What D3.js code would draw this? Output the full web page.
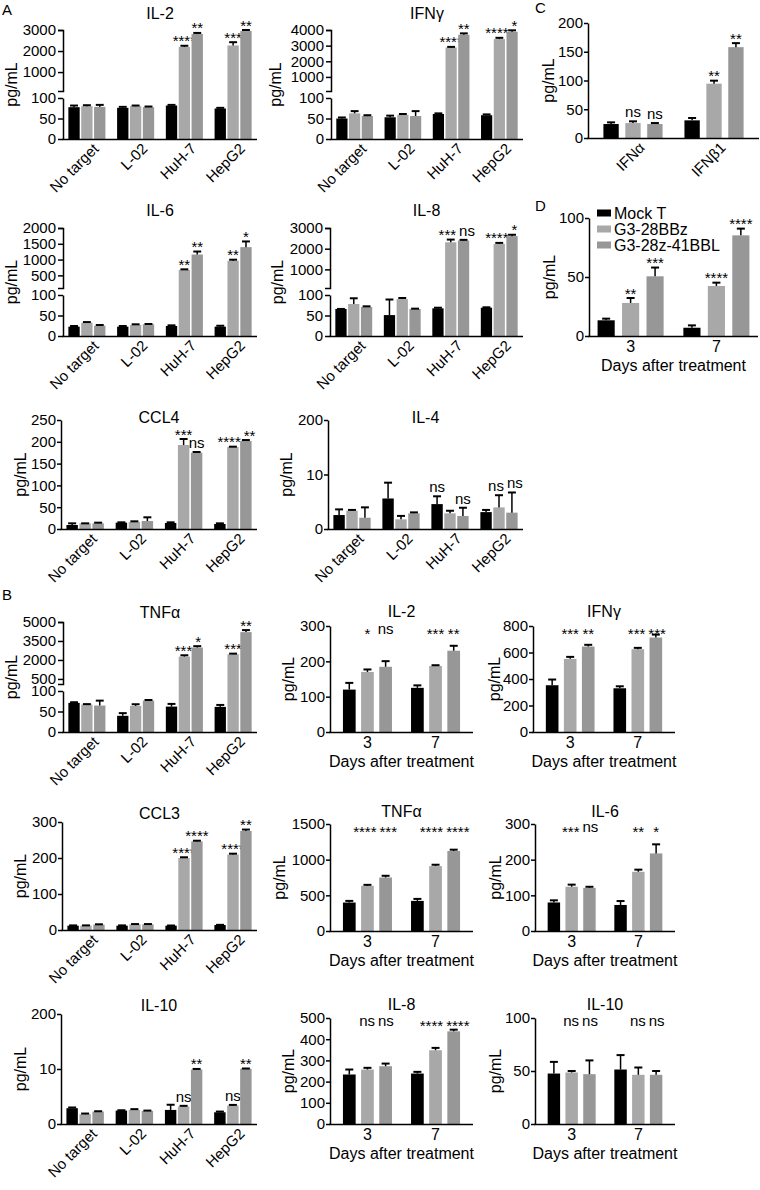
<!DOCTYPE html>
<html><head><meta charset="utf-8">
<script src="https://cdn.jsdelivr.net/npm/d3@7"></script>
<style>
body{margin:0;background:#fff;}
svg text{font-family:"Liberation Sans", Arial, Helvetica, sans-serif; fill:#000;}
</style></head><body>
<svg id="c" width="760" height="1190"></svg>
<script>
// ---------------- DATA ----------------
const seriesNames = ["Mock T", "G3-28BBz", "G3-28z-41BBL"];
const seriesColors = ["#000000", "#a8a8a8", "#979797"];
const targets = ["No target", "L-02", "HuH-7", "HepG2"];
const days = ["3", "7"];
const ifnCats = ["IFNα", "IFNβ1"];

// Panel A (rows = targets, cols = series)
const aIL2Mean = [[77.6,80,78.4],[76,80,77.6],[81.6,2190,2810],[74.4,2265,2950]];
const aIL2Err  = [[4,2.4,4.8],[2.4,1.6,1.6],[1.6,60,50],[1.6,155,50]];
const aIL2Sig  = [["","",""],["","",""],["","****","**"],["","***","**"]];
const aIL2LoTicks = [0,50,100], aIL2HiTicks = [1000,2000,3000];

const aIFNgMean = [[50,62.5,56],[53,59,56],[61,2880,3700],[58,3420,3890]];
const aIFNgErr  = [[2.5,5.5,2],[4,2,12],[1.5,40,85],[2,80,90]];
const aIFNgSig  = [["","",""],["","",""],["","****","**"],["","****","*"]];
const aIFNgLoTicks = [0,50,100], aIFNgHiTicks = [1000,2000,3000,4000];

const aIL6Mean = [[22.8,32.5,25.2],[22.8,26.8,28.5],[24.4,670,1160],[22.8,964,1394]];
const aIL6Err  = [[1.6,1.5,1.6],[1.6,1.7,0.8],[1.6,21,95],[2.2,32,180]];
const aIL6Sig  = [["","",""],["","",""],["","**","**"],["","**","*"]];
const aIL6LoTicks = [0,50,100], aIL6HiTicks = [500,1000,1500,2000];

const aIL8Mean = [[66,78,70.7],[51,90,66],[67.5,2310,2394],[69,2230,2607]];
const aIL8Err  = [[0,14,1.7],[38,2.7,0.7],[1.5,130,33],[1,50,66]];
const aIL8Sig  = [["","",""],["","",""],["","***","ns"],["","****","*"]];
const aIL8LoTicks = [0,50,100], aIL8HiTicks = [1000,2000,3000];

const aCCL4Mean = [[9.2,13,13],[14.5,16,18.3],[13.8,192.7,175],[11.5,188,201.8]];
const aCCL4Err  = [[3.8,0,1.5],[0.8,1.6,8.5],[1.5,13.7,1.6],[1.5,0.8,2.2]];
const aCCL4Sig  = [["","",""],["","",""],["","***","ns"],["","****","**"]];
const aCCL4Ticks = [0,50,100,150,200,250];

const aIL4Mean = [[2.56,3.35,2.07],[5.6,1.77,2.87],[4.57,2.87,2.38],[3.1,3.96,3.0]];
const aIL4Err  = [[1.04,0.15,1.9],[2.9,0.63,0.18],[1.43,0.48,1.52],[0.4,2.24,3.7]];
const aIL4Sig  = [["","",""],["","",""],["ns","","ns"],["","ns","ns"]];
const aIL4Ticks = [0,10,200];

// Panel B, left column (targets)
const bTNFaMean = [[71,67,64.5],[39.5,63.7,76.6],[62,2265,2980],[61.3,2450,4200]];
const bTNFaErr  = [[1.6,1,12],[6.5,4,1.4],[6.5,105,110],[4.7,50,160]];
const bTNFaSig  = [["","",""],["","",""],["","***","*"],["","***","**"]];
const bTNFaLoTicks = [0,50,100], bTNFaHiTicks = [500,2000,3500,5000];

const bCCL3Mean = [[12,12,14.8],[12,15.7,15.7],[12,200,246],[13.8,209.6,275]];
const bCCL3Err  = [[0.8,0.8,1],[0.8,0.8,0.8],[0.5,2,2],[0.5,2.4,4]];
const bCCL3Sig  = [["","",""],["","",""],["","****","****"],["","****","**"]];
const bCCL3Ticks = [0,100,200,300];

const bIL10Mean = [[2.87,1.77,2.26],[2.44,2.56,2.38],[2.56,3.17,9.9],[2.13,3.35,10.9]];
const bIL10Err  = [[0.13,0.13,0.06],[0.06,0.14,0.06],[0.94,0.13,0.3],[0.13,0.12,0.8]];
const bIL10Sig  = [["","",""],["","",""],["","ns","**"],["","ns","**"]];
const bIL10Ticks = [0,10,200];

// Panel B, days after treatment (rows = days)
const dIL2Mean = [[120,170,184.5],[125,187,230]];
const dIL2Err  = [[19,7,16],[7,2,14]];
const dIL2Sig  = [["","*","ns"],["","***","**"]];
const dIL2Ticks = [0,100,200,300];

const dIFNgMean = [[353,552,645],[330,625,713]];
const dIFNgErr  = [[43,15,13],[15,10,22]];
const dIFNgSig  = [["","***","**"],["","***","***"]];
const dIFNgTicks = [0,200,400,600,800];

const dTNFaMean = [[399,633,750],[422,910,1121]];
const dTNFaErr  = [[23,14,24],[28,19,19]];
const dTNFaSig  = [["","****","***"],["","****","****"]];
const dTNFaTicks = [0,500,1000,1500];

const dIL6Mean = [[80,124,121],[73,166,217.5]];
const dIL6Err  = [[6,6,3],[11,6,25.5]];
const dIL6Sig  = [["","***","ns"],["","**","*"]];
const dIL6Ticks = [0,100,200,300];

const dIL8Mean = [[233.5,257,272.6],[238,348,437]];
const dIL8Err  = [[23.5,8,12.4],[8,11,8]];
const dIL8Sig  = [["","ns","ns"],["","****","****"]];
const dIL8Ticks = [0,100,200,300,400,500];

const dIL10Mean = [[47.6,48.6,47],[51.4,46.4,46.4]];
const dIL10Err  = [[11,1.4,13],[13.6,6.9,3.6]];
const dIL10Sig  = [["","ns","ns"],["","ns","ns"]];
const dIL10Ticks = [0,50,100];

// Panel C
const cMean = [[24.3,26,24.3],[30.7,94.5,158]];
const cErr  = [[2.9,3,1.7],[4.1,5.2,7]];
const cSig  = [["","ns","ns"],["","**","**"]];
const cTicks = [0,50,100,150,200];

// Panel D
const dMean = [[13.3,28,50.6],[7,42.4,85.3]];
const dErr  = [[1.4,4.2,7.4],[2,2.8,5.7]];
const dSig  = [["","**","***"],["","****","****"]];
const dTicks = [0,50,100];

// ---------------- DRAWING ----------------
const svg = d3.select("#c");
const TICK_FS = 15, TITLE_FS = 16, SIG_FS = 15;
const fmt = d3.format("d");

function styleAxis(sel, fs) {
  sel.select(".domain").attr("stroke", "#000").attr("stroke-width", 1.5);
  sel.selectAll(".tick line").attr("stroke", "#000").attr("stroke-width", 1.5);
  sel.selectAll(".tick text").attr("font-size", fs || TICK_FS)
     .style("font-family", '"Liberation Sans", Arial, sans-serif');
  return sel;
}

function baselineFor(text, yc, fs) {
  return /\*/.test(text) ? yc + 0.57 * fs : yc + 0.26 * fs;
}

function drawPlot(p) {
  const g = svg.append("g");
  const tk = p.tick || 5, tp = p.pad == null ? 2 : p.pad;
  let Y;
  const axisG = [];
  if (p.kind === "break") {
    const lo = d3.scaleLinear().domain([0, p.brk]).range([p.yBot, p.yLoTop]);
    const hi = d3.scaleLinear().domain([p.brk, p.max]).range([p.yLoTop - p.gap, p.yTop]);
    Y = v => (v <= p.brk ? lo(v) : hi(v));
    axisG.push(d3.axisLeft(lo).tickValues(p.loTicks).tickSize(tk).tickSizeOuter(0).tickPadding(tp).tickFormat(fmt));
    axisG.push(d3.axisLeft(hi).tickValues(p.hiTicks).tickSize(tk).tickSizeOuter(tk).tickPadding(tp).tickFormat(fmt));
  } else {
    const d = p.ticks;
    const s = p.kind === "seg"
      ? d3.scaleLinear().domain([d[0], d[1], d[2]]).range([p.yBot, (p.yBot + p.yTop) / 2, p.yTop])
      : d3.scaleLinear().domain([0, d[d.length - 1]]).range([p.yBot, p.yTop]);
    Y = s;
    axisG.push(d3.axisLeft(s).tickValues(p.ticks).tickSize(tk).tickSizeOuter(0).tickPadding(tp).tickFormat(fmt));
  }

  const x = d3.scaleBand().domain(p.cats).range([p.x0, p.x1]).paddingInner(p.pI).paddingOuter(p.pO);
  const xi = d3.scaleBand().domain([0, 1, 2]).range([0, x.bandwidth()]).paddingInner(p.bI);
  const bw = xi.bandwidth();
  const capW = Math.min(8, bw * 0.7);

  p.cats.forEach((c, ci) => {
    const labels = [];
    p.mean[ci].forEach((m, s) => {
      const bx = x(c) + xi(s);
      g.append("rect").attr("x", bx).attr("y", Y(m)).attr("width", bw)
        .attr("height", Y(0) - Y(m)).attr("fill", seriesColors[s]);
      const e = p.err[ci][s];
      const cx = bx + bw / 2;
      const yT = Y(m + e);
      g.append("line").attr("x1", cx).attr("x2", cx).attr("y1", Y(m)).attr("y2", yT)
        .attr("stroke", "#000").attr("stroke-width", 1.5);
      g.append("line").attr("x1", cx - capW / 2).attr("x2", cx + capW / 2).attr("y1", yT).attr("y2", yT)
        .attr("stroke", "#000").attr("stroke-width", 2);
      const lab = p.sig[ci][s];
      if (lab) {
        const yc = p.sigMode === "top" ? p.yTop + 4 : yT - 8;
        const t = g.append("text").attr("x", cx).attr("y", baselineFor(lab, yc, SIG_FS))
          .attr("text-anchor", "middle").attr("font-size", SIG_FS).text(lab);
        labels.push({ t, cx, yc, w: t.node().getComputedTextLength() });
      }
    });
    // spread neighbouring labels that would collide
    for (let k = 0; k + 1 < labels.length; k++) {
      const a = labels[k], b = labels[k + 1];
      if (Math.abs(a.yc - b.yc) > 11) continue;
      const need = (a.w + b.w) / 2 + 3;
      const have = b.cx - a.cx;
      if (have < need) {
        const sh = (need - have) / 2;
        a.cx -= sh; b.cx += sh;
        a.t.attr("x", a.cx); b.t.attr("x", b.cx);
      }
    }
  });

  // y axes
  axisG.forEach(a => styleAxis(g.append("g").attr("transform", `translate(${p.x0},0)`).call(a)));

  // x axis
  const xa = g.append("g").attr("transform", `translate(0,${p.yBot})`)
    .call(d3.axisBottom(x).tickSize(0).tickSizeOuter(0).tickPadding(5));
  styleAxis(xa, p.rotate ? 15 : 16);
  xa.select(".domain").attr("d", `M${p.x0 - 0.75},0.5H${p.x1}`);
  if (p.rotate) {
    xa.selectAll(".tick text").attr("x", 0).attr("y", 0).attr("dy", "0.35em")
      .attr("text-anchor", "end").attr("transform", "translate(9,7) rotate(-45)");
  }
  if (p.xTitle) {
    g.append("text").attr("x", (p.x0 + p.x1) / 2).attr("y", p.yBot + 35)
      .attr("text-anchor", "middle").attr("font-size", 16).text(p.xTitle);
  }
  // y label
  g.append("text").attr("transform", `translate(${p.labelX},${(p.yTop + p.yBot) / 2}) rotate(-90)`)
    .attr("dy", "0.3em").attr("text-anchor", "middle").attr("font-size", 16).text("pg/mL");
  // title
  if (p.title) {
    g.append("text").attr("x", (p.x0 + p.x1) / 2).attr("y", p.titleY).attr("dy", "0.36em")
      .attr("text-anchor", "middle").attr("font-size", TITLE_FS).text(p.title);
  }
}

const tgt = { cats: targets, pI: 0.24, pO: 0.11, bI: 0.12, rotate: true, sigMode: "bar", tick: 5, pad: 2 };
const day = { cats: days, pI: 0.28, pO: 0.19, bI: 0.3, rotate: false, sigMode: "top",
  xTitle: "Days after treatment", tick: 4, pad: 1 };

// Panel A
drawPlot({ ...tgt, title: "IL-2", titleY: 13, x0: 63, x1: 257, yTop: 30, yBot: 139,
  kind: "break", brk: 100, yLoTop: 98, gap: 7, max: 3000, loTicks: aIL2LoTicks, hiTicks: aIL2HiTicks,
  mean: aIL2Mean, err: aIL2Err, sig: aIL2Sig, labelX: 12 });
drawPlot({ ...tgt, title: "IFNγ", titleY: 13, x0: 331, x1: 523, yTop: 30, yBot: 139,
  kind: "break", brk: 100, yLoTop: 98, gap: 7, max: 4000, loTicks: aIFNgLoTicks, hiTicks: aIFNgHiTicks,
  mean: aIFNgMean, err: aIFNgErr, sig: aIFNgSig, labelX: 276 });
drawPlot({ ...tgt, title: "IL-6", titleY: 210, x0: 63, x1: 257, yTop: 228, yBot: 336,
  kind: "break", brk: 100, yLoTop: 295, gap: 7, max: 2000, loTicks: aIL6LoTicks, hiTicks: aIL6HiTicks,
  mean: aIL6Mean, err: aIL6Err, sig: aIL6Sig, labelX: 12 });
drawPlot({ ...tgt, title: "IL-8", titleY: 210, x0: 330, x1: 523, yTop: 228, yBot: 336,
  kind: "break", brk: 100, yLoTop: 295, gap: 7, max: 3000, loTicks: aIL8LoTicks, hiTicks: aIL8HiTicks,
  mean: aIL8Mean, err: aIL8Err, sig: aIL8Sig, labelX: 278 });
drawPlot({ ...tgt, title: "CCL4", titleY: 417, x0: 61, x1: 257, yTop: 420, yBot: 529,
  kind: "lin", ticks: aCCL4Ticks, mean: aCCL4Mean, err: aCCL4Err, sig: aCCL4Sig, labelX: 21, tick: 4, pad: 1 });
drawPlot({ ...tgt, title: "IL-4", titleY: 417, x0: 328, x1: 523, yTop: 420, yBot: 529,
  kind: "seg", ticks: aIL4Ticks, mean: aIL4Mean, err: aIL4Err, sig: aIL4Sig, labelX: 287, tick: 4, pad: 1 });

// Panel B left
drawPlot({ ...tgt, title: "TNFα", titleY: 612, x0: 63, x1: 257, yTop: 622, yBot: 732,
  kind: "break", brk: 100, yLoTop: 691, gap: 7, max: 5000, loTicks: bTNFaLoTicks, hiTicks: bTNFaHiTicks,
  mean: bTNFaMean, err: bTNFaErr, sig: bTNFaSig, labelX: 12 });
drawPlot({ ...tgt, title: "CCL3", titleY: 813, x0: 62, x1: 257, yTop: 822, yBot: 930,
  kind: "lin", ticks: bCCL3Ticks, mean: bCCL3Mean, err: bCCL3Err, sig: bCCL3Sig, labelX: 21, tick: 4, pad: 1 });
drawPlot({ ...tgt, title: "IL-10", titleY: 1005, x0: 61, x1: 257, yTop: 1014, yBot: 1124,
  kind: "seg", ticks: bIL10Ticks, mean: bIL10Mean, err: bIL10Err, sig: bIL10Sig, labelX: 21, tick: 4, pad: 1 });

// Panel B days
drawPlot({ ...day, title: "IL-2", titleY: 611, x0: 330, x1: 473, yTop: 626, yBot: 732,
  kind: "lin", ticks: dIL2Ticks, mean: dIL2Mean, err: dIL2Err, sig: dIL2Sig, labelX: 289 });
drawPlot({ ...day, title: "IFNγ", titleY: 611, x0: 533, x1: 675, yTop: 626, yBot: 732,
  kind: "lin", ticks: dIFNgTicks, mean: dIFNgMean, err: dIFNgErr, sig: dIFNgSig, labelX: 495 });
drawPlot({ ...day, title: "TNFα", titleY: 811, x0: 330, x1: 473, yTop: 824, yBot: 931,
  kind: "lin", ticks: dTNFaTicks, mean: dTNFaMean, err: dTNFaErr, sig: dTNFaSig, labelX: 280 });
drawPlot({ ...day, title: "IL-6", titleY: 811, x0: 535, x1: 675, yTop: 824, yBot: 931,
  kind: "lin", ticks: dIL6Ticks, mean: dIL6Mean, err: dIL6Err, sig: dIL6Sig, labelX: 496 });
drawPlot({ ...day, title: "IL-8", titleY: 1004, x0: 330, x1: 473, yTop: 1018, yBot: 1124,
  kind: "lin", ticks: dIL8Ticks, mean: dIL8Mean, err: dIL8Err, sig: dIL8Sig, labelX: 289 });
drawPlot({ ...day, title: "IL-10", titleY: 1004, x0: 535, x1: 675, yTop: 1018, yBot: 1124,
  kind: "lin", ticks: dIL10Ticks, mean: dIL10Mean, err: dIL10Err, sig: dIL10Sig, labelX: 496 });

// Panel C
drawPlot({ cats: ifnCats, pI: 0.27, pO: 0.19, bI: 0.3, rotate: true, sigMode: "bar", tick: 4, pad: 1,
  x0: 588, x1: 759, yTop: 23, yBot: 138, kind: "lin", ticks: cTicks,
  mean: cMean, err: cErr, sig: cSig, labelX: 549 });

// Panel D
drawPlot({ cats: days, pI: 0.23, pO: 0.10, bI: 0.3, rotate: false, sigMode: "bar", tick: 4, pad: 1,
  xTitle: "Days after treatment",
  x0: 589, x1: 758, yTop: 218, yBot: 336, kind: "lin", ticks: dTicks,
  mean: dMean, err: dErr, sig: dSig, labelX: 550 });

// Legend (panel D)
const leg = svg.append("g").attr("transform", "translate(597,213)");
seriesNames.forEach((n, i) => {
  leg.append("rect").attr("x", 0).attr("y", i * 16 - 3.5).attr("width", 14).attr("height", 7)
    .attr("fill", seriesColors[i]);
  leg.append("text").attr("x", 17).attr("y", i * 16).attr("dy", "0.36em")
    .attr("font-size", 16).text(n);
});

// Panel letters
[["A", 2, 15], ["B", 2, 600], ["C", 535, 13], ["D", 535, 211]].forEach(([t, lx, ly]) => {
  svg.append("text").attr("x", lx).attr("y", ly).attr("font-size", 15).text(t);
});
</script></body></html>
